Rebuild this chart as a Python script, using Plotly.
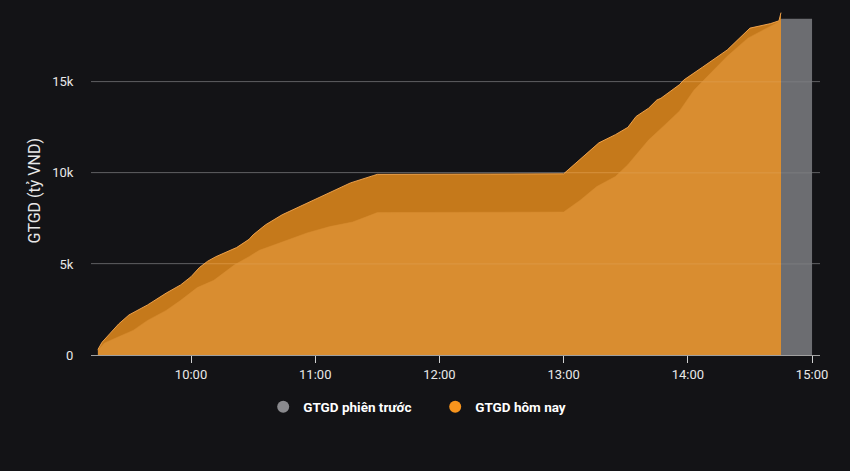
import plotly.graph_objects as go

DAY = "2024-01-01 "

# Previous session (GTGD phiên trước), billion VND
prev_times = ["09:15", "09:18", "09:25", "09:32", "09:39", "09:48", "09:55", "10:03",
              "10:11", "10:21", "10:28", "10:33", "10:44", "10:56", "11:07", "11:18",
              "11:25", "11:30", "13:00", "13:08", "13:16", "13:25", "13:31", "13:35",
              "13:41", "13:49", "13:56", "14:03", "14:11", "14:19", "14:29", "14:39",
              "14:44", "14:45", "15:00"]
prev_values = [250, 650, 1000, 1350, 1900, 2450, 3000, 3700,
               4100, 4950, 5400, 5750, 6200, 6700, 7050, 7300,
               7600, 7820, 7850, 8500, 9250, 9800, 10450, 11000,
               11800, 12650, 13400, 14550, 15500, 16400, 17400, 18000,
               18300, 18450, 18450]

# Today (GTGD hôm nay), billion VND
today_times = ["09:15", "09:17", "09:21", "09:25", "09:30", "09:39", "09:48", "09:55",
               "10:00", "10:04", "10:08", "10:12", "10:22", "10:28", "10:30", "10:36",
               "10:44", "10:56", "11:07", "11:17", "11:28", "11:30", "13:00", "13:02",
               "13:09", "13:17", "13:25", "13:31", "13:35", "13:41", "13:45", "13:47",
               "13:56", "13:58", "14:07", "14:19", "14:30", "14:40", "14:44", "14:45"]
today_values = [300, 700, 1200, 1700, 2200, 2750, 3400, 3850,
                4300, 4800, 5150, 5400, 5900, 6350, 6600, 7150,
                7700, 8350, 8950, 9450, 9850, 9920, 9950, 10150,
                10900, 11650, 12100, 12500, 13100, 13550, 14000, 14100,
                14850, 15100, 15800, 16750, 17950, 18200, 18350, 18800]

y_ticks = [0, 5000, 10000, 15000]
y_tick_text = ["0", "5k", "10k", "15k"]
x_ticks = ["10:00", "11:00", "12:00", "13:00", "14:00", "15:00"]

names = ["GTGD phiên trước", "GTGD hôm nay"]
y_title = "GTGD (tỷ VND)"
GRAY = "#6c6d71"
ORANGE = "#f7941d"

fig = go.Figure()
fig.add_trace(go.Scatter(
    x=[DAY + t for t in prev_times], y=prev_values, mode="lines",
    fill="tozeroy", fillcolor=GRAY, line=dict(color=GRAY, width=0.5),
    showlegend=False, hoverinfo="skip"))
fig.add_trace(go.Scatter(
    x=[DAY + t for t in today_times], y=today_values, mode="lines",
    fill="tozeroy", fillcolor="rgba(247,150,30,0.78)",
    line=dict(color="rgba(250,170,80,0.9)", width=1),
    showlegend=False, hoverinfo="skip"))

# legend entries with round markers
fig.add_trace(go.Scatter(x=[None], y=[None], mode="markers", name=names[0],
                         marker=dict(color="#8a8a8e", size=14, symbol="circle")))
fig.add_trace(go.Scatter(x=[None], y=[None], mode="markers", name=names[1],
                         marker=dict(color=ORANGE, size=14, symbol="circle")))

# faint gridlines over the areas
for v in y_ticks[1:]:
    fig.add_shape(type="line", xref="paper", x0=0, x1=1, yref="y", y0=v, y1=v,
                  line=dict(color="rgba(255,255,255,0.10)", width=1), layer="above")

# y-axis title
fig.add_annotation(text=y_title, xref="paper", yref="paper", x=-0.077, y=0.475,
                   xanchor="center", yanchor="middle", textangle=-90, showarrow=False,
                   font=dict(size=16, color="#e8e8e8", family="Roboto, Arial, sans-serif"))

fig.update_layout(
    width=850, height=471,
    paper_bgcolor="#131316", plot_bgcolor="#131316",
    margin=dict(l=91, r=30, t=9, b=116),
    font=dict(family="Roboto, Arial, sans-serif", color="#e8e8e8", size=13),
    showlegend=True,
    legend=dict(orientation="h", xref="container", yref="container",
                x=0.512, xanchor="center", y=0.136, yanchor="middle",
                entrywidth=127, entrywidthmode="pixels",
                font=dict(size=13.5, color="#ffffff", family="Roboto, Arial, sans-serif", weight="bold"),
                itemsizing="constant", bgcolor="rgba(0,0,0,0)"),
)
fig.update_xaxes(
    type="date", range=[DAY + "09:11:40", DAY + "15:03:50"],
    tickvals=[DAY + t for t in x_ticks], ticktext=x_ticks,
    showgrid=False, zeroline=False,
    showline=True, linecolor="#a0a0a0", linewidth=1,
    ticks="outside", ticklen=7, tickcolor="#d0d0d0", tickwidth=1,
    tickfont=dict(size=13, color="#e8e8e8"),
)
fig.update_yaxes(
    range=[0, 19000], tickvals=y_ticks, ticktext=y_tick_text,
    showgrid=True, gridcolor="#4c4c4f", gridwidth=1, zeroline=False,
    ticks="outside", ticklen=14, tickcolor="rgba(0,0,0,0)",
    tickfont=dict(size=13, color="#e8e8e8"),
)

fig.write_html("out.html", config={"displayModeBar": False},
               post_script="document.body.style.margin='0';")
